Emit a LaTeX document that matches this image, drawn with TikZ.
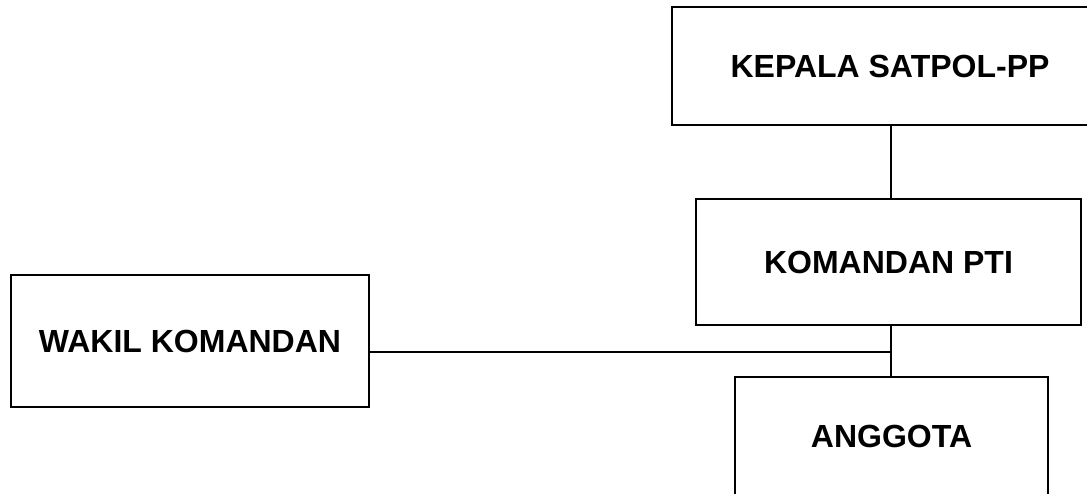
\documentclass[tikz,border=0pt]{standalone}
\usepackage{fontspec}
\setmainfont{Liberation Sans}
\begin{document}
\begin{tikzpicture}[x=1pt,y=1pt,
  orgbox/.style={draw=black, line width=2.2pt, rectangle, inner sep=0pt,
    font=\fontsize{32}{36}\selectfont\bfseries, text=black},
  conn/.style={draw=black, line width=2pt}]
\useasboundingbox[fill=white] (0,0) rectangle (1087,493);
\node[orgbox, minimum width=436, minimum height=118] (kepala) at (890,427) {KEPALA SATPOL-PP};
\node[orgbox, minimum width=385, minimum height=126] (komandan) at (888.5,231) {KOMANDAN PTI};
\node[orgbox, minimum width=358, minimum height=132] (wakil) at (190,152) {WAKIL KOMANDAN};
\node[orgbox, minimum width=313, minimum height=118] (anggota) at (891.5,57) {ANGGOTA};
\coordinate (J) at (891,141);
\draw[conn] (kepala.south -| J) -- (komandan.north -| J);
\draw[conn] (komandan.south -| J) -- (anggota.north -| J);
\draw[conn] (wakil.east |- J) -- (J);
\end{tikzpicture}
\end{document}
